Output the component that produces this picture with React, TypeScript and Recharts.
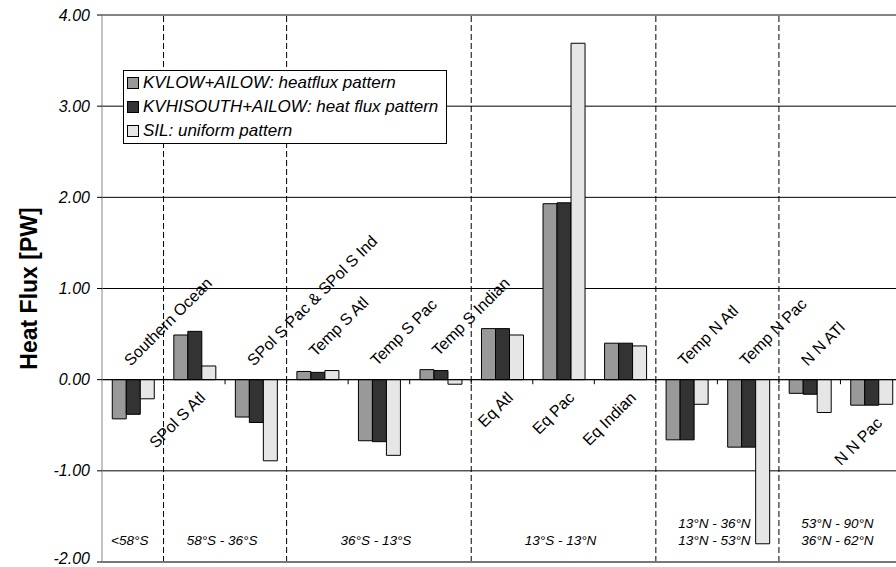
import React from "react";
import {
  BarChart,
  Bar,
  XAxis,
  YAxis,
  CartesianGrid,
  ReferenceLine,
  ReferenceArea,
  ReferenceDot,
  Legend,
} from "recharts";

const categories = [
  "Southern Ocean",
  "SPol S Atl",
  "SPol S Pac & SPol S Ind",
  "Temp S Atl",
  "Temp S Pac",
  "Temp S Indian",
  "Eq Atl",
  "Eq Pac",
  "Eq Indian",
  "Temp N Atl",
  "Temp N Pac",
  "N N ATl",
  "N N Pac",
];
const kvlow = [-0.43, 0.49, -0.41, 0.09, -0.67, 0.11, 0.56, 1.93, 0.4, -0.66, -0.74, -0.15, -0.28];
const kvhisouth = [-0.38, 0.53, -0.47, 0.08, -0.68, 0.1, 0.56, 1.94, 0.4, -0.66, -0.74, -0.16, -0.28];
const sil = [-0.21, 0.15, -0.89, 0.1, -0.83, -0.05, 0.49, 3.69, 0.37, -0.27, -1.8, -0.36, -0.27];
// which side of the bars each region name sits on
const labelSide = ["up", "down", "up", "up", "up", "up", "down", "down", "down", "up", "up", "up", "down"];

const seriesNames = [
  "KVLOW+AILOW: heatflux pattern",
  "KVHISOUTH+AILOW: heat flux pattern",
  "SIL: uniform pattern",
];
const seriesColors = ["#999999", "#333333", "#e6e6e6"];

// latitude bands: first and last category index of each band
const regionFirst = [0, 1, 3, 6, 9, 11];
const regionLast = [0, 2, 5, 8, 10, 12];
const regionLabels = [
  ["<58°S"],
  ["58°S - 36°S"],
  ["36°S - 13°S"],
  ["13°S - 13°N"],
  ["13°N - 36°N", "13°N - 53°N"],
  ["53°N - 90°N", "36°N - 62°N"],
];
const yTicks = [-2, -1, 0, 1, 2, 3, 4];

const data = categories.map((name, i) => ({
  name,
  kvlow: kvlow[i],
  kvhisouth: kvhisouth[i],
  sil: sil[i],
}));

const FONT = "'Liberation Sans', Arial, Helvetica, sans-serif";

// label anchor: top of the tallest bar (up) or bottom of the deepest bar (down)
const anchorValue = (i: number) =>
  labelSide[i] === "up"
    ? Math.max(0, kvlow[i], kvhisouth[i], sil[i])
    : Math.min(0, kvlow[i], kvhisouth[i], sil[i]);

const C45 = Math.SQRT1_2;

const catLabel = (i: number) => (p: any) => {
  const vb = p.viewBox;
  const cx = vb.x + vb.width / 2;
  const cy = vb.y + vb.height / 2;
  const up = labelSide[i] === "up";
  const px = up ? cx - 2 : cx + 12;
  const py = up ? cy - 13 : cy + 19;
  // rotate -45deg about (px, py)
  const a = C45;
  const b = -C45;
  const c = C45;
  const d = C45;
  const e = px - a * px - c * py;
  const f = py - b * px - d * py;
  return (
    <g transform={`matrix(${a} ${b} ${c} ${d} ${e} ${f})`}>
      <text x={px} y={py} fontSize={16} fill="#000" textAnchor={up ? "start" : "end"}>
        {categories[i]}
      </text>
    </g>
  );
};

const regionLabel = (lines: string[]) => (p: any) => {
  const vb = p.viewBox;
  const cx = vb.x + vb.width / 2 - 3;
  const base = vb.y + vb.height - 17;
  return (
    <text x={cx} y={base} textAnchor="middle" fontSize={13.5} fontStyle="italic" fill="#000">
      {lines.map((l, k) => (
        <tspan key={k} x={cx} y={base - (lines.length - 1 - k) * 17}>
          {l}
        </tspan>
      ))}
    </text>
  );
};

const renderLegend = () => (
  <div
    style={{
      border: "1px solid #000",
      background: "#fff",
      padding: "0 8px 0 3px",
      fontFamily: FONT,
      fontSize: 17,
      fontStyle: "italic",
      color: "#000",
      whiteSpace: "nowrap",
    }}
  >
    {seriesNames.map((n, i) => (
      <div key={n} style={{ height: 24, lineHeight: "24px", display: "flex", alignItems: "center" }}>
        <span
          style={{
            display: "inline-block",
            width: 10,
            height: 10,
            border: "1px solid #000",
            background: seriesColors[i],
            marginRight: 4,
          }}
        />
        {n}
      </div>
    ))}
  </div>
);

const yLabel = (p: any) => {
  const vb = p.viewBox;
  const cy = vb.y + vb.height / 2;
  return (
    <g>
      <g transform={`rotate(-90 37 ${cy})`}>
        <text x={37} y={cy} textAnchor="middle" fontSize={23} fontWeight="bold" fill="#000">
          Heat Flux [PW]
        </text>
      </g>
    </g>
  );
};

const yTick = (p: any) => {
  const y = Math.min(p.y, 558);
  return (
    <text x={p.x} y={y} dy={5.5} textAnchor="end" fontSize={16} fontStyle="italic" fill="#000">
      {Number(p.payload.value).toFixed(2)}
    </text>
  );
};

export default function App() {
  return (
    <div
      style={{
        position: "absolute",
        left: 0,
        top: 0,
        width: 896,
        height: 567,
        overflow: "hidden",
        background: "#fff",
        fontFamily: FONT,
      }}
    >
      <BarChart
        width={910}
        height={567}
        data={data}
        margin={{ top: 15, right: 8, bottom: 5, left: 0 }}
        barGap={0}
        barCategoryGap="16.7%"
        style={{ fontFamily: FONT }}
      >
        <CartesianGrid vertical={false} stroke="#000" strokeWidth={1} />
        <XAxis dataKey="name" hide />
        <YAxis
          width={102}
          domain={[-2, 4]}
          ticks={yTicks}
          interval={0}
          tick={yTick}
          tickSize={5}
          tickMargin={7}
          stroke="#888"
          tickLine={{ stroke: "#000" }}
          label={yLabel}
        />
        <Legend
          layout="vertical"
          align="center"
          verticalAlign="middle"
          wrapperStyle={{ left: 123, top: 70, width: "auto" }}
          content={renderLegend}
        />
        {regionLabels.map((lines, k) => (
          <ReferenceArea
            key={"ra" + k}
            x1={categories[regionFirst[k]]}
            x2={categories[regionLast[k]]}
            y1={-2}
            y2={4}
            fillOpacity={0}
            strokeOpacity={0}
            label={regionLabel(lines)}
          />
        ))}
        <Bar dataKey="kvlow" name={seriesNames[0]} fill={seriesColors[0]} stroke="#000" strokeWidth={1} isAnimationActive={false} />
        <Bar dataKey="kvhisouth" name={seriesNames[1]} fill={seriesColors[1]} stroke="#000" strokeWidth={1} isAnimationActive={false} />
        <Bar dataKey="sil" name={seriesNames[2]} fill={seriesColors[2]} stroke="#000" strokeWidth={1} isAnimationActive={false} />
        <ReferenceLine y={0} stroke="#000" strokeWidth={1} />
        {categories.slice(1).map((c) => (
          <ReferenceLine
            key={"tk" + c}
            position="start"
            segment={[
              { x: c, y: 0 },
              { x: c, y: -0.05 },
            ]}
            stroke="#000"
          />
        ))}
        {regionFirst.slice(1).map((e) => (
          <ReferenceLine key={"rl" + e} x={categories[e]} position="start" stroke="#000" strokeDasharray="6 3" />
        ))}
        <ReferenceLine y={4} stroke="#888" strokeWidth={1} />
        <ReferenceLine y={-2} stroke="#777" strokeWidth={2} />
        {categories.map((c, i) => (
          <ReferenceDot
            key={"cl" + i}
            x={c}
            y={anchorValue(i)}
            r={1}
            fillOpacity={0}
            strokeOpacity={0}
            label={catLabel(i)}
          />
        ))}
      </BarChart>
    </div>
  );
}
